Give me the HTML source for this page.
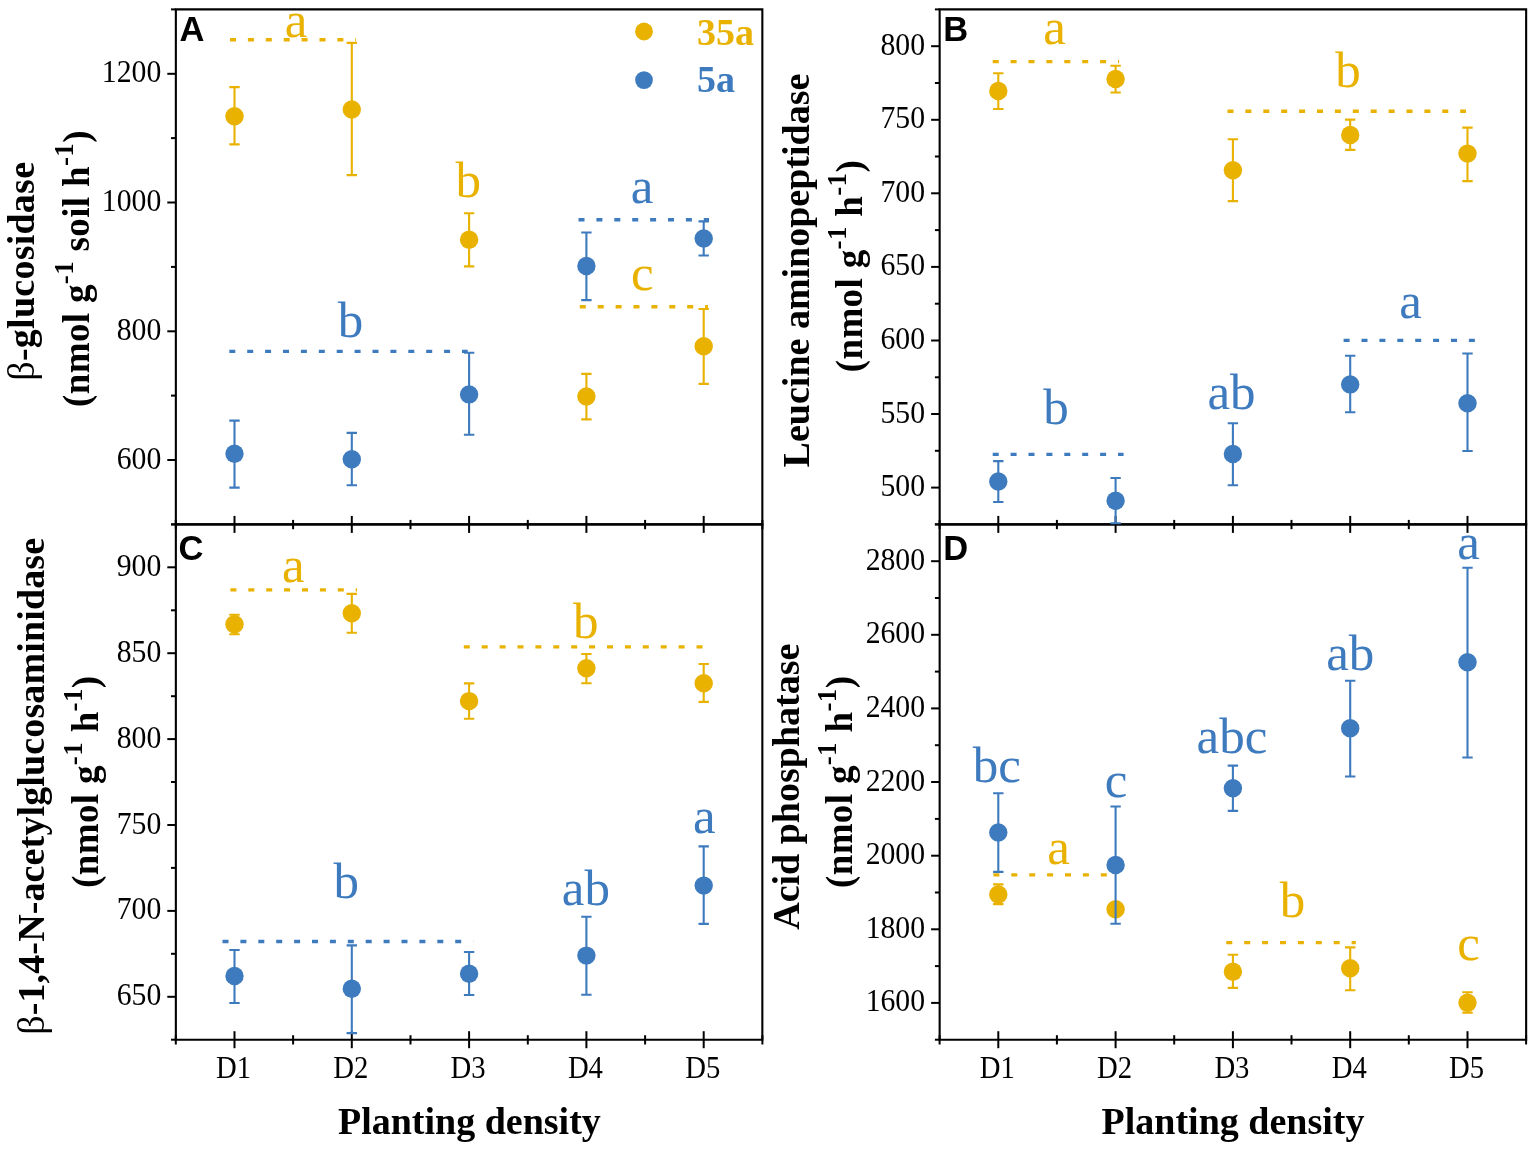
<!DOCTYPE html>
<html><head><meta charset="utf-8"><title>Enzyme activities</title>
<style>
html,body{margin:0;padding:0;background:#fff;}
svg{display:block;}
.t{font-family:"Liberation Serif","Times New Roman",serif;}
.tick{font-size:30.5px;fill:#000;}
.xl{font-size:31.5px;fill:#000;}
.let{font-size:51px;}
.tt{font-size:38px;font-weight:bold;fill:#000;}
.pl{font-family:"Liberation Sans",Arial,sans-serif;font-size:34.5px;font-weight:bold;fill:#000;}
</style></head>
<body>
<svg width="1535" height="1152" viewBox="0 0 1535 1152">
<rect width="1535" height="1152" fill="#fff"/>

<path d="M175.85,9.4H762.35V524.4H175.85Z" fill="none" stroke="#000" stroke-width="2.1"/>
<line x1="171.0" y1="524.4" x2="175.85" y2="524.4" stroke="#000" stroke-width="2.0"/>
<line x1="167.3" y1="460.0" x2="175.85" y2="460.0" stroke="#000" stroke-width="2.0"/>
<text class="t tick" transform="translate(161.3,468.5) scale(0.975,1)" text-anchor="end">600</text>
<line x1="171.0" y1="395.6" x2="175.85" y2="395.6" stroke="#000" stroke-width="2.0"/>
<line x1="167.3" y1="331.3" x2="175.85" y2="331.3" stroke="#000" stroke-width="2.0"/>
<text class="t tick" transform="translate(161.3,339.8) scale(0.975,1)" text-anchor="end">800</text>
<line x1="171.0" y1="266.9" x2="175.85" y2="266.9" stroke="#000" stroke-width="2.0"/>
<line x1="167.3" y1="202.5" x2="175.85" y2="202.5" stroke="#000" stroke-width="2.0"/>
<text class="t tick" transform="translate(161.3,211.0) scale(0.975,1)" text-anchor="end">1000</text>
<line x1="171.0" y1="138.1" x2="175.85" y2="138.1" stroke="#000" stroke-width="2.0"/>
<line x1="167.3" y1="73.8" x2="175.85" y2="73.8" stroke="#000" stroke-width="2.0"/>
<text class="t tick" transform="translate(161.3,82.3) scale(0.975,1)" text-anchor="end">1200</text>
<line x1="171.0" y1="9.4" x2="175.85" y2="9.4" stroke="#000" stroke-width="2.0"/>
<line x1="234.5" y1="515.9" x2="234.5" y2="532.9" stroke="#000" stroke-width="2.0"/>
<line x1="351.8" y1="515.9" x2="351.8" y2="532.9" stroke="#000" stroke-width="2.0"/>
<line x1="469.1" y1="515.9" x2="469.1" y2="532.9" stroke="#000" stroke-width="2.0"/>
<line x1="586.4" y1="515.9" x2="586.4" y2="532.9" stroke="#000" stroke-width="2.0"/>
<line x1="703.7" y1="515.9" x2="703.7" y2="532.9" stroke="#000" stroke-width="2.0"/>
<line x1="175.8" y1="519.9" x2="175.8" y2="529.2" stroke="#000" stroke-width="2.0"/>
<line x1="293.1" y1="519.9" x2="293.1" y2="529.2" stroke="#000" stroke-width="2.0"/>
<line x1="410.5" y1="519.9" x2="410.5" y2="529.2" stroke="#000" stroke-width="2.0"/>
<line x1="527.8" y1="519.9" x2="527.8" y2="529.2" stroke="#000" stroke-width="2.0"/>
<line x1="645.1" y1="519.9" x2="645.1" y2="529.2" stroke="#000" stroke-width="2.0"/>
<line x1="762.4" y1="519.9" x2="762.4" y2="529.2" stroke="#000" stroke-width="2.0"/>
<path d="M939.65,9.4H1526.15V524.4H939.65Z" fill="none" stroke="#000" stroke-width="2.1"/>
<line x1="934.9" y1="524.4" x2="939.65" y2="524.4" stroke="#000" stroke-width="2.0"/>
<line x1="931.1" y1="487.6" x2="939.65" y2="487.6" stroke="#000" stroke-width="2.0"/>
<text class="t tick" transform="translate(925.1,496.1) scale(0.975,1)" text-anchor="end">500</text>
<line x1="934.9" y1="450.8" x2="939.65" y2="450.8" stroke="#000" stroke-width="2.0"/>
<line x1="931.1" y1="414.0" x2="939.65" y2="414.0" stroke="#000" stroke-width="2.0"/>
<text class="t tick" transform="translate(925.1,422.5) scale(0.975,1)" text-anchor="end">550</text>
<line x1="934.9" y1="377.3" x2="939.65" y2="377.3" stroke="#000" stroke-width="2.0"/>
<line x1="931.1" y1="340.5" x2="939.65" y2="340.5" stroke="#000" stroke-width="2.0"/>
<text class="t tick" transform="translate(925.1,349.0) scale(0.975,1)" text-anchor="end">600</text>
<line x1="934.9" y1="303.7" x2="939.65" y2="303.7" stroke="#000" stroke-width="2.0"/>
<line x1="931.1" y1="266.9" x2="939.65" y2="266.9" stroke="#000" stroke-width="2.0"/>
<text class="t tick" transform="translate(925.1,275.4) scale(0.975,1)" text-anchor="end">650</text>
<line x1="934.9" y1="230.1" x2="939.65" y2="230.1" stroke="#000" stroke-width="2.0"/>
<line x1="931.1" y1="193.3" x2="939.65" y2="193.3" stroke="#000" stroke-width="2.0"/>
<text class="t tick" transform="translate(925.1,201.8) scale(0.975,1)" text-anchor="end">700</text>
<line x1="934.9" y1="156.5" x2="939.65" y2="156.5" stroke="#000" stroke-width="2.0"/>
<line x1="931.1" y1="119.8" x2="939.65" y2="119.8" stroke="#000" stroke-width="2.0"/>
<text class="t tick" transform="translate(925.1,128.3) scale(0.975,1)" text-anchor="end">750</text>
<line x1="934.9" y1="83.0" x2="939.65" y2="83.0" stroke="#000" stroke-width="2.0"/>
<line x1="931.1" y1="46.2" x2="939.65" y2="46.2" stroke="#000" stroke-width="2.0"/>
<text class="t tick" transform="translate(925.1,54.7) scale(0.975,1)" text-anchor="end">800</text>
<line x1="934.9" y1="9.4" x2="939.65" y2="9.4" stroke="#000" stroke-width="2.0"/>
<line x1="998.3" y1="515.9" x2="998.3" y2="532.9" stroke="#000" stroke-width="2.0"/>
<line x1="1115.6" y1="515.9" x2="1115.6" y2="532.9" stroke="#000" stroke-width="2.0"/>
<line x1="1232.9" y1="515.9" x2="1232.9" y2="532.9" stroke="#000" stroke-width="2.0"/>
<line x1="1350.2" y1="515.9" x2="1350.2" y2="532.9" stroke="#000" stroke-width="2.0"/>
<line x1="1467.5" y1="515.9" x2="1467.5" y2="532.9" stroke="#000" stroke-width="2.0"/>
<line x1="939.6" y1="519.9" x2="939.6" y2="529.2" stroke="#000" stroke-width="2.0"/>
<line x1="1056.9" y1="519.9" x2="1056.9" y2="529.2" stroke="#000" stroke-width="2.0"/>
<line x1="1174.2" y1="519.9" x2="1174.2" y2="529.2" stroke="#000" stroke-width="2.0"/>
<line x1="1291.5" y1="519.9" x2="1291.5" y2="529.2" stroke="#000" stroke-width="2.0"/>
<line x1="1408.8" y1="519.9" x2="1408.8" y2="529.2" stroke="#000" stroke-width="2.0"/>
<line x1="1526.1" y1="519.9" x2="1526.1" y2="529.2" stroke="#000" stroke-width="2.0"/>
<path d="M175.85,524.4H762.35V1039.7H175.85Z" fill="none" stroke="#000" stroke-width="2.1"/>
<line x1="171.0" y1="1039.7" x2="175.85" y2="1039.7" stroke="#000" stroke-width="2.0"/>
<line x1="167.3" y1="996.8" x2="175.85" y2="996.8" stroke="#000" stroke-width="2.0"/>
<text class="t tick" transform="translate(161.3,1005.3) scale(0.975,1)" text-anchor="end">650</text>
<line x1="171.0" y1="953.8" x2="175.85" y2="953.8" stroke="#000" stroke-width="2.0"/>
<line x1="167.3" y1="910.9" x2="175.85" y2="910.9" stroke="#000" stroke-width="2.0"/>
<text class="t tick" transform="translate(161.3,919.4) scale(0.975,1)" text-anchor="end">700</text>
<line x1="171.0" y1="867.9" x2="175.85" y2="867.9" stroke="#000" stroke-width="2.0"/>
<line x1="167.3" y1="825.0" x2="175.85" y2="825.0" stroke="#000" stroke-width="2.0"/>
<text class="t tick" transform="translate(161.3,833.5) scale(0.975,1)" text-anchor="end">750</text>
<line x1="171.0" y1="782.0" x2="175.85" y2="782.0" stroke="#000" stroke-width="2.0"/>
<line x1="167.3" y1="739.1" x2="175.85" y2="739.1" stroke="#000" stroke-width="2.0"/>
<text class="t tick" transform="translate(161.3,747.6) scale(0.975,1)" text-anchor="end">800</text>
<line x1="171.0" y1="696.2" x2="175.85" y2="696.2" stroke="#000" stroke-width="2.0"/>
<line x1="167.3" y1="653.2" x2="175.85" y2="653.2" stroke="#000" stroke-width="2.0"/>
<text class="t tick" transform="translate(161.3,661.7) scale(0.975,1)" text-anchor="end">850</text>
<line x1="171.0" y1="610.3" x2="175.85" y2="610.3" stroke="#000" stroke-width="2.0"/>
<line x1="167.3" y1="567.3" x2="175.85" y2="567.3" stroke="#000" stroke-width="2.0"/>
<text class="t tick" transform="translate(161.3,575.8) scale(0.975,1)" text-anchor="end">900</text>
<line x1="171.0" y1="524.4" x2="175.85" y2="524.4" stroke="#000" stroke-width="2.0"/>
<line x1="234.5" y1="1031.2" x2="234.5" y2="1048.2" stroke="#000" stroke-width="2.0"/>
<line x1="351.8" y1="1031.2" x2="351.8" y2="1048.2" stroke="#000" stroke-width="2.0"/>
<line x1="469.1" y1="1031.2" x2="469.1" y2="1048.2" stroke="#000" stroke-width="2.0"/>
<line x1="586.4" y1="1031.2" x2="586.4" y2="1048.2" stroke="#000" stroke-width="2.0"/>
<line x1="703.7" y1="1031.2" x2="703.7" y2="1048.2" stroke="#000" stroke-width="2.0"/>
<line x1="175.8" y1="1035.2" x2="175.8" y2="1044.5" stroke="#000" stroke-width="2.0"/>
<line x1="293.1" y1="1035.2" x2="293.1" y2="1044.5" stroke="#000" stroke-width="2.0"/>
<line x1="410.5" y1="1035.2" x2="410.5" y2="1044.5" stroke="#000" stroke-width="2.0"/>
<line x1="527.8" y1="1035.2" x2="527.8" y2="1044.5" stroke="#000" stroke-width="2.0"/>
<line x1="645.1" y1="1035.2" x2="645.1" y2="1044.5" stroke="#000" stroke-width="2.0"/>
<line x1="762.4" y1="1035.2" x2="762.4" y2="1044.5" stroke="#000" stroke-width="2.0"/>
<path d="M939.65,524.4H1526.15V1039.7H939.65Z" fill="none" stroke="#000" stroke-width="2.1"/>
<line x1="934.9" y1="1039.7" x2="939.65" y2="1039.7" stroke="#000" stroke-width="2.0"/>
<line x1="931.1" y1="1002.9" x2="939.65" y2="1002.9" stroke="#000" stroke-width="2.0"/>
<text class="t tick" transform="translate(925.1,1011.4) scale(0.975,1)" text-anchor="end">1600</text>
<line x1="934.9" y1="966.1" x2="939.65" y2="966.1" stroke="#000" stroke-width="2.0"/>
<line x1="931.1" y1="929.3" x2="939.65" y2="929.3" stroke="#000" stroke-width="2.0"/>
<text class="t tick" transform="translate(925.1,937.8) scale(0.975,1)" text-anchor="end">1800</text>
<line x1="934.9" y1="892.5" x2="939.65" y2="892.5" stroke="#000" stroke-width="2.0"/>
<line x1="931.1" y1="855.7" x2="939.65" y2="855.7" stroke="#000" stroke-width="2.0"/>
<text class="t tick" transform="translate(925.1,864.2) scale(0.975,1)" text-anchor="end">2000</text>
<line x1="934.9" y1="818.9" x2="939.65" y2="818.9" stroke="#000" stroke-width="2.0"/>
<line x1="931.1" y1="782.0" x2="939.65" y2="782.0" stroke="#000" stroke-width="2.0"/>
<text class="t tick" transform="translate(925.1,790.5) scale(0.975,1)" text-anchor="end">2200</text>
<line x1="934.9" y1="745.2" x2="939.65" y2="745.2" stroke="#000" stroke-width="2.0"/>
<line x1="931.1" y1="708.4" x2="939.65" y2="708.4" stroke="#000" stroke-width="2.0"/>
<text class="t tick" transform="translate(925.1,716.9) scale(0.975,1)" text-anchor="end">2400</text>
<line x1="934.9" y1="671.6" x2="939.65" y2="671.6" stroke="#000" stroke-width="2.0"/>
<line x1="931.1" y1="634.8" x2="939.65" y2="634.8" stroke="#000" stroke-width="2.0"/>
<text class="t tick" transform="translate(925.1,643.3) scale(0.975,1)" text-anchor="end">2600</text>
<line x1="934.9" y1="598.0" x2="939.65" y2="598.0" stroke="#000" stroke-width="2.0"/>
<line x1="931.1" y1="561.2" x2="939.65" y2="561.2" stroke="#000" stroke-width="2.0"/>
<text class="t tick" transform="translate(925.1,569.7) scale(0.975,1)" text-anchor="end">2800</text>
<line x1="934.9" y1="524.4" x2="939.65" y2="524.4" stroke="#000" stroke-width="2.0"/>
<line x1="998.3" y1="1031.2" x2="998.3" y2="1048.2" stroke="#000" stroke-width="2.0"/>
<line x1="1115.6" y1="1031.2" x2="1115.6" y2="1048.2" stroke="#000" stroke-width="2.0"/>
<line x1="1232.9" y1="1031.2" x2="1232.9" y2="1048.2" stroke="#000" stroke-width="2.0"/>
<line x1="1350.2" y1="1031.2" x2="1350.2" y2="1048.2" stroke="#000" stroke-width="2.0"/>
<line x1="1467.5" y1="1031.2" x2="1467.5" y2="1048.2" stroke="#000" stroke-width="2.0"/>
<line x1="939.6" y1="1035.2" x2="939.6" y2="1044.5" stroke="#000" stroke-width="2.0"/>
<line x1="1056.9" y1="1035.2" x2="1056.9" y2="1044.5" stroke="#000" stroke-width="2.0"/>
<line x1="1174.2" y1="1035.2" x2="1174.2" y2="1044.5" stroke="#000" stroke-width="2.0"/>
<line x1="1291.5" y1="1035.2" x2="1291.5" y2="1044.5" stroke="#000" stroke-width="2.0"/>
<line x1="1408.8" y1="1035.2" x2="1408.8" y2="1044.5" stroke="#000" stroke-width="2.0"/>
<line x1="1526.1" y1="1035.2" x2="1526.1" y2="1044.5" stroke="#000" stroke-width="2.0"/>
<text class="t xl" transform="translate(233.5,1077.6) scale(0.91,1)" text-anchor="middle">D1</text>
<text class="t xl" transform="translate(350.8,1077.6) scale(0.91,1)" text-anchor="middle">D2</text>
<text class="t xl" transform="translate(468.1,1077.6) scale(0.91,1)" text-anchor="middle">D3</text>
<text class="t xl" transform="translate(585.4,1077.6) scale(0.91,1)" text-anchor="middle">D4</text>
<text class="t xl" transform="translate(702.7,1077.6) scale(0.91,1)" text-anchor="middle">D5</text>
<text class="t xl" transform="translate(997.3,1077.6) scale(0.91,1)" text-anchor="middle">D1</text>
<text class="t xl" transform="translate(1114.6,1077.6) scale(0.91,1)" text-anchor="middle">D2</text>
<text class="t xl" transform="translate(1231.9,1077.6) scale(0.91,1)" text-anchor="middle">D3</text>
<text class="t xl" transform="translate(1349.2,1077.6) scale(0.91,1)" text-anchor="middle">D4</text>
<text class="t xl" transform="translate(1466.5,1077.6) scale(0.91,1)" text-anchor="middle">D5</text>
<text class="t tt" x="469.4" y="1134.4" text-anchor="middle">Planting density</text>
<text class="t tt" x="1233" y="1134.4" text-anchor="middle">Planting density</text>
<text class="pl" x="179.5" y="40.6">A</text>
<text class="pl" x="943.2" y="40.6">B</text>
<text class="pl" x="178.5" y="560.0">C</text>
<text class="pl" x="943.2" y="559.6">D</text>
<text class="t tt" style="letter-spacing:0.25px" transform="translate(34,271.2) rotate(-90)" text-anchor="middle"><tspan font-weight="normal">β</tspan>-glucosidase</text>
<text class="t tt" style="font-size:37px;letter-spacing:0.35px" transform="translate(88.7,268.5) rotate(-90)" text-anchor="middle">(nmol g<tspan font-size="27" dy="-16">-1</tspan><tspan dy="16"> soil h</tspan><tspan font-size="27" dy="-16">-1</tspan><tspan dy="16">)</tspan></text>
<text class="t tt" transform="translate(809,270.5) rotate(-90)" text-anchor="middle">Leucine aminopeptidase</text>
<text class="t tt" style="font-size:37px;letter-spacing:0.35px" transform="translate(862,266) rotate(-90)" text-anchor="middle">(nmol g<tspan font-size="27" dy="-16">-1</tspan><tspan dy="16"> h</tspan><tspan font-size="27" dy="-16">-1</tspan><tspan dy="16">)</tspan></text>
<text class="t tt" style="letter-spacing:0.13px" transform="translate(43.7,786.3) rotate(-90)" text-anchor="middle"><tspan font-weight="normal">β</tspan>-1,4-N-acetylglucosaminidase</text>
<text class="t tt" style="font-size:37px;letter-spacing:0.35px" transform="translate(98.1,781.7) rotate(-90)" text-anchor="middle">(nmol g<tspan font-size="27" dy="-16">-1</tspan><tspan dy="16"> h</tspan><tspan font-size="27" dy="-16">-1</tspan><tspan dy="16">)</tspan></text>
<text class="t tt" transform="translate(799,786.7) rotate(-90)" text-anchor="middle">Acid phosphatase</text>
<text class="t tt" style="font-size:37px;letter-spacing:0.35px" transform="translate(851.6,781.8) rotate(-90)" text-anchor="middle">(nmol g<tspan font-size="27" dy="-16">-1</tspan><tspan dy="16"> h</tspan><tspan font-size="27" dy="-16">-1</tspan><tspan dy="16">)</tspan></text>
<path d="M234.5,87.1V144.4M229.3,87.1H239.7M229.3,144.4H239.7" stroke="#E9B200" stroke-width="2.1" fill="none"/>
<circle cx="234.5" cy="116.2" r="9.2" fill="#E9B200"/>
<path d="M351.8,42.9V175.1M346.6,42.9H357.0M346.6,175.1H357.0" stroke="#E9B200" stroke-width="2.1" fill="none"/>
<circle cx="351.8" cy="109.5" r="9.2" fill="#E9B200"/>
<path d="M469.1,213.3V266.4M463.9,213.3H474.3M463.9,266.4H474.3" stroke="#E9B200" stroke-width="2.1" fill="none"/>
<circle cx="469.1" cy="239.8" r="9.2" fill="#E9B200"/>
<path d="M586.4,373.9V419.4M581.2,373.9H591.6M581.2,419.4H591.6" stroke="#E9B200" stroke-width="2.1" fill="none"/>
<circle cx="586.4" cy="396.5" r="9.2" fill="#E9B200"/>
<path d="M703.7,309V383.9M698.5,309H708.9M698.5,383.9H708.9" stroke="#E9B200" stroke-width="2.1" fill="none"/>
<circle cx="703.7" cy="346.2" r="9.2" fill="#E9B200"/>
<path d="M234.5,420.6V487.6M229.3,420.6H239.7M229.3,487.6H239.7" stroke="#3E7BBE" stroke-width="2.1" fill="none"/>
<circle cx="234.5" cy="453.8" r="9.2" fill="#3E7BBE"/>
<path d="M351.8,432.9V485.3M346.6,432.9H357.0M346.6,485.3H357.0" stroke="#3E7BBE" stroke-width="2.1" fill="none"/>
<circle cx="351.8" cy="459.3" r="9.2" fill="#3E7BBE"/>
<path d="M469.1,352.8V434.8M463.9,352.8H474.3M463.9,434.8H474.3" stroke="#3E7BBE" stroke-width="2.1" fill="none"/>
<circle cx="469.1" cy="394.4" r="9.2" fill="#3E7BBE"/>
<path d="M586.4,232.5V300.1M581.2,232.5H591.6M581.2,300.1H591.6" stroke="#3E7BBE" stroke-width="2.1" fill="none"/>
<circle cx="586.4" cy="266.0" r="9.2" fill="#3E7BBE"/>
<path d="M703.7,221.4V255.5M698.5,221.4H708.9M698.5,255.5H708.9" stroke="#3E7BBE" stroke-width="2.1" fill="none"/>
<circle cx="703.7" cy="238.5" r="9.2" fill="#3E7BBE"/>
<path d="M998.3,73.3V109M993.1,73.3H1003.5M993.1,109H1003.5" stroke="#E9B200" stroke-width="2.1" fill="none"/>
<circle cx="998.3" cy="91" r="9.2" fill="#E9B200"/>
<path d="M1115.6,65.7V92.5M1110.4,65.7H1120.8M1110.4,92.5H1120.8" stroke="#E9B200" stroke-width="2.1" fill="none"/>
<circle cx="1115.6" cy="79" r="9.2" fill="#E9B200"/>
<path d="M1232.9,139.2V201.1M1227.7,139.2H1238.1M1227.7,201.1H1238.1" stroke="#E9B200" stroke-width="2.1" fill="none"/>
<circle cx="1232.9" cy="170.3" r="9.2" fill="#E9B200"/>
<path d="M1350.2,119.6V149.9M1345.0,119.6H1355.4M1345.0,149.9H1355.4" stroke="#E9B200" stroke-width="2.1" fill="none"/>
<circle cx="1350.2" cy="134.9" r="9.2" fill="#E9B200"/>
<path d="M1467.5,127.6V181.1M1462.3,127.6H1472.7M1462.3,181.1H1472.7" stroke="#E9B200" stroke-width="2.1" fill="none"/>
<circle cx="1467.5" cy="153.6" r="9.2" fill="#E9B200"/>
<path d="M998.3,461.1V502M993.1,461.1H1003.5M993.1,502H1003.5" stroke="#3E7BBE" stroke-width="2.1" fill="none"/>
<circle cx="998.3" cy="481.5" r="9.2" fill="#3E7BBE"/>
<path d="M1115.6,478V523.2M1110.4,478H1120.8M1110.4,523.2H1120.8" stroke="#3E7BBE" stroke-width="2.1" fill="none"/>
<circle cx="1115.6" cy="500.7" r="9.2" fill="#3E7BBE"/>
<path d="M1232.9,423.2V485.3M1227.7,423.2H1238.1M1227.7,485.3H1238.1" stroke="#3E7BBE" stroke-width="2.1" fill="none"/>
<circle cx="1232.9" cy="454" r="9.2" fill="#3E7BBE"/>
<path d="M1350.2,355.8V412.2M1345.0,355.8H1355.4M1345.0,412.2H1355.4" stroke="#3E7BBE" stroke-width="2.1" fill="none"/>
<circle cx="1350.2" cy="384.4" r="9.2" fill="#3E7BBE"/>
<path d="M1467.5,353.5V451M1462.3,353.5H1472.7M1462.3,451H1472.7" stroke="#3E7BBE" stroke-width="2.1" fill="none"/>
<circle cx="1467.5" cy="403.2" r="9.2" fill="#3E7BBE"/>
<path d="M234.5,614.7V634.2M229.3,614.7H239.7M229.3,634.2H239.7" stroke="#E9B200" stroke-width="2.1" fill="none"/>
<circle cx="234.5" cy="624.3" r="9.2" fill="#E9B200"/>
<path d="M351.8,593.9V632.8M346.6,593.9H357.0M346.6,632.8H357.0" stroke="#E9B200" stroke-width="2.1" fill="none"/>
<circle cx="351.8" cy="613.3" r="9.2" fill="#E9B200"/>
<path d="M469.1,683.4V718.8M463.9,683.4H474.3M463.9,718.8H474.3" stroke="#E9B200" stroke-width="2.1" fill="none"/>
<circle cx="469.1" cy="701.1" r="9.2" fill="#E9B200"/>
<path d="M586.4,654V683.2M581.2,654H591.6M581.2,683.2H591.6" stroke="#E9B200" stroke-width="2.1" fill="none"/>
<circle cx="586.4" cy="668.2" r="9.2" fill="#E9B200"/>
<path d="M703.7,664V701.9M698.5,664H708.9M698.5,701.9H708.9" stroke="#E9B200" stroke-width="2.1" fill="none"/>
<circle cx="703.7" cy="683.2" r="9.2" fill="#E9B200"/>
<path d="M234.5,950V1003M229.3,950H239.7M229.3,1003H239.7" stroke="#3E7BBE" stroke-width="2.1" fill="none"/>
<circle cx="234.5" cy="976" r="9.2" fill="#3E7BBE"/>
<path d="M351.8,945.4V1033.1M346.6,945.4H357.0M346.6,1033.1H357.0" stroke="#3E7BBE" stroke-width="2.1" fill="none"/>
<circle cx="351.8" cy="988.8" r="9.2" fill="#3E7BBE"/>
<path d="M469.1,952V995M463.9,952H474.3M463.9,995H474.3" stroke="#3E7BBE" stroke-width="2.1" fill="none"/>
<circle cx="469.1" cy="973.7" r="9.2" fill="#3E7BBE"/>
<path d="M586.4,916.8V994.7M581.2,916.8H591.6M581.2,994.7H591.6" stroke="#3E7BBE" stroke-width="2.1" fill="none"/>
<circle cx="586.4" cy="955.6" r="9.2" fill="#3E7BBE"/>
<path d="M703.7,846.4V923.9M698.5,846.4H708.9M698.5,923.9H708.9" stroke="#3E7BBE" stroke-width="2.1" fill="none"/>
<circle cx="703.7" cy="885.6" r="9.2" fill="#3E7BBE"/>
<path d="M998.3,884.4V904.1M993.1,884.4H1003.5M993.1,904.1H1003.5" stroke="#E9B200" stroke-width="2.1" fill="none"/>
<circle cx="998.3" cy="894.5" r="9.2" fill="#E9B200"/>
<path d="M1115.6,904V914M1110.4,904H1120.8M1110.4,914H1120.8" stroke="#E9B200" stroke-width="2.1" fill="none"/>
<circle cx="1115.6" cy="909.3" r="9.2" fill="#E9B200"/>
<path d="M1232.9,954.8V987.9M1227.7,954.8H1238.1M1227.7,987.9H1238.1" stroke="#E9B200" stroke-width="2.1" fill="none"/>
<circle cx="1232.9" cy="971.7" r="9.2" fill="#E9B200"/>
<path d="M1350.2,947.4V990.2M1345.0,947.4H1355.4M1345.0,990.2H1355.4" stroke="#E9B200" stroke-width="2.1" fill="none"/>
<circle cx="1350.2" cy="968.2" r="9.2" fill="#E9B200"/>
<path d="M1467.5,992.3V1012.6M1462.3,992.3H1472.7M1462.3,1012.6H1472.7" stroke="#E9B200" stroke-width="2.1" fill="none"/>
<circle cx="1467.5" cy="1002.7" r="9.2" fill="#E9B200"/>
<path d="M998.3,793.3V871.9M993.1,793.3H1003.5M993.1,871.9H1003.5" stroke="#3E7BBE" stroke-width="2.1" fill="none"/>
<circle cx="998.3" cy="832.5" r="9.2" fill="#3E7BBE"/>
<path d="M1115.6,806.5V923.7M1110.4,806.5H1120.8M1110.4,923.7H1120.8" stroke="#3E7BBE" stroke-width="2.1" fill="none"/>
<circle cx="1115.6" cy="865" r="9.2" fill="#3E7BBE"/>
<path d="M1232.9,765.6V810.9M1227.7,765.6H1238.1M1227.7,810.9H1238.1" stroke="#3E7BBE" stroke-width="2.1" fill="none"/>
<circle cx="1232.9" cy="788.2" r="9.2" fill="#3E7BBE"/>
<path d="M1350.2,680.7V776.5M1345.0,680.7H1355.4M1345.0,776.5H1355.4" stroke="#3E7BBE" stroke-width="2.1" fill="none"/>
<circle cx="1350.2" cy="728.3" r="9.2" fill="#3E7BBE"/>
<path d="M1467.5,567.7V757.5M1462.3,567.7H1472.7M1462.3,757.5H1472.7" stroke="#3E7BBE" stroke-width="2.1" fill="none"/>
<circle cx="1467.5" cy="662.2" r="9.2" fill="#3E7BBE"/>
<line x1="230" y1="39.7" x2="356" y2="39.7" stroke="#E9B200" stroke-width="3.4" stroke-dasharray="6 11.9"/>
<line x1="578.5" y1="219.8" x2="709" y2="219.8" stroke="#3E7BBE" stroke-width="3.4" stroke-dasharray="6 11.9"/>
<line x1="579.8" y1="306.8" x2="708" y2="306.8" stroke="#E9B200" stroke-width="3.4" stroke-dasharray="6 11.9"/>
<line x1="229.3" y1="351.4" x2="467.7" y2="351.4" stroke="#3E7BBE" stroke-width="3.4" stroke-dasharray="6 11.9"/>
<line x1="992.7" y1="61.6" x2="1119.1" y2="61.6" stroke="#E9B200" stroke-width="3.4" stroke-dasharray="6 11.9"/>
<line x1="1227.5" y1="111.3" x2="1466" y2="111.3" stroke="#E9B200" stroke-width="3.4" stroke-dasharray="6 11.9"/>
<line x1="992.7" y1="454.4" x2="1123.6" y2="454.4" stroke="#3E7BBE" stroke-width="3.4" stroke-dasharray="6 11.9"/>
<line x1="1343.6" y1="340.4" x2="1475.2" y2="340.4" stroke="#3E7BBE" stroke-width="3.4" stroke-dasharray="6 11.9"/>
<line x1="230.4" y1="589.9" x2="357.1" y2="589.9" stroke="#E9B200" stroke-width="3.4" stroke-dasharray="6 11.9"/>
<line x1="463.8" y1="646.9" x2="702.5" y2="646.9" stroke="#E9B200" stroke-width="3.4" stroke-dasharray="6 11.9"/>
<line x1="222.5" y1="941.5" x2="473.2" y2="941.5" stroke="#3E7BBE" stroke-width="3.4" stroke-dasharray="6 11.9"/>
<line x1="993.4" y1="874.9" x2="1118.4" y2="874.9" stroke="#E9B200" stroke-width="3.4" stroke-dasharray="6 11.9"/>
<line x1="1226.3" y1="942.6" x2="1355.8" y2="942.6" stroke="#E9B200" stroke-width="3.4" stroke-dasharray="6 11.9"/>
<text class="t let" x="296" y="37.2" fill="#E9B200" text-anchor="middle">a</text>
<text class="t let" x="468.3" y="197.2" fill="#E9B200" text-anchor="middle">b</text>
<text class="t let" x="642" y="203" fill="#3E7BBE" text-anchor="middle">a</text>
<text class="t let" x="642.4" y="289.6" fill="#E9B200" text-anchor="middle">c</text>
<text class="t let" x="350.6" y="336.8" fill="#3E7BBE" text-anchor="middle">b</text>
<text class="t let" x="1054.5" y="44" fill="#E9B200" text-anchor="middle">a</text>
<text class="t let" x="1348" y="86.6" fill="#E9B200" text-anchor="middle">b</text>
<text class="t let" x="1055.9" y="423.6" fill="#3E7BBE" text-anchor="middle">b</text>
<text class="t let" x="1231.5" y="409.4" fill="#3E7BBE" text-anchor="middle">ab</text>
<text class="t let" x="1410.6" y="318.4" fill="#3E7BBE" text-anchor="middle">a</text>
<text class="t let" x="293.4" y="581.5" fill="#E9B200" text-anchor="middle">a</text>
<text class="t let" x="585.7" y="638.2" fill="#E9B200" text-anchor="middle">b</text>
<text class="t let" x="346.2" y="897.7" fill="#3E7BBE" text-anchor="middle">b</text>
<text class="t let" x="585.9" y="905" fill="#3E7BBE" text-anchor="middle">ab</text>
<text class="t let" x="704.3" y="833" fill="#3E7BBE" text-anchor="middle">a</text>
<text class="t let" x="996.8" y="782.4" fill="#3E7BBE" text-anchor="middle">bc</text>
<text class="t let" x="1116" y="796.6" fill="#3E7BBE" text-anchor="middle">c</text>
<text class="t let" x="1058.5" y="864" fill="#E9B200" text-anchor="middle">a</text>
<text class="t let" x="1232" y="752.9" fill="#3E7BBE" text-anchor="middle">abc</text>
<text class="t let" x="1350.3" y="669.6" fill="#3E7BBE" text-anchor="middle">ab</text>
<text class="t let" x="1468.5" y="558.9" fill="#3E7BBE" text-anchor="middle">a</text>
<text class="t let" x="1292.5" y="916.6" fill="#E9B200" text-anchor="middle">b</text>
<text class="t let" x="1468.5" y="959.6" fill="#E9B200" text-anchor="middle">c</text>
<circle cx="644" cy="31.5" r="8.9" fill="#E9B200"/>
<text class="t tt" x="697" y="44.6" fill="#E9B200" style="fill:#E9B200">35a</text>
<circle cx="644" cy="80.1" r="8.9" fill="#3E7BBE"/>
<text class="t tt" x="697" y="92.4" fill="#3E7BBE" style="fill:#3E7BBE">5a</text>
</svg>
</body></html>
